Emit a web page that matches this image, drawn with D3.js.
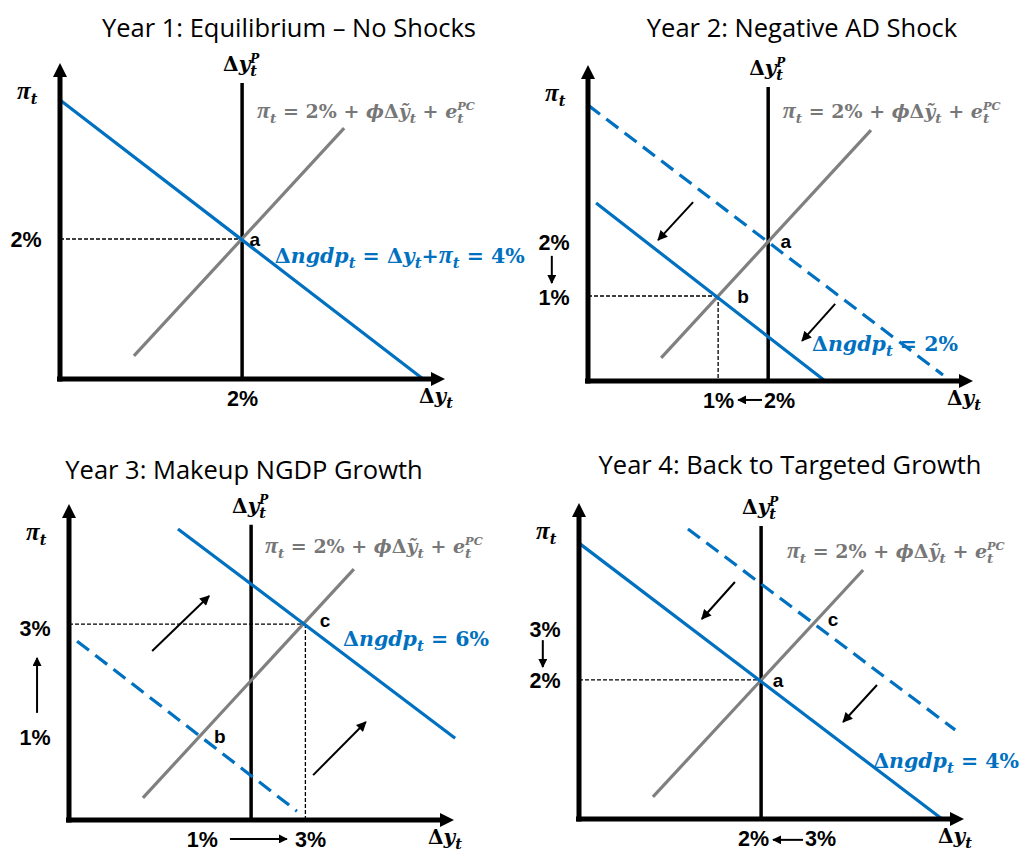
<!DOCTYPE html>
<html><head><meta charset="utf-8">
<script src="https://cdn.jsdelivr.net/npm/d3@7"></script>
<style>body{margin:0;background:#fff}</style>
</head><body><svg id="c" width="1019" height="851"></svg>
<script>
// ---------- data (abstract diagram units: 0..10 on each axis) ----------
const titles = ["Year 1: Equilibrium – No Shocks", "Year 2: Negative AD Shock",
                "Year 3: Makeup NGDP Growth", "Year 4: Back to Targeted Growth"];
const potentialOutput = [4.73, 4.68, 4.73, 4.73];
const potentialTop = [9.37, 9.30, 9.34, 9.27];
const pcCurves = [
  [[1.92, 0.73], [7.38, 7.94]],
  [[1.90, 0.73], [7.35, 7.94]],
  [[1.92, 0.70], [7.40, 7.94]],
  [[1.92, 0.70], [7.38, 7.88]]
];
const adSolid = [
  [[0, 8.83], [9.43, 0]],
  [[0.21, 5.63], [6.16, 0]],
  [[2.83, 9.21], [10.03, 2.59]],
  [[0, 8.73], [9.43, 0]]
];
const adDashed = [
  null,
  [[0, 8.73], [9.22, 0.19]],
  [[0.21, 5.66], [5.92, 0.28]],
  [[2.83, 9.18], [9.77, 2.82]]
];
const guides = [
  [[[0, 4.43], [4.73, 4.43]]],
  [[[0, 2.69], [3.38, 2.69]], [[3.38, 2.69], [3.38, 0]]],
  [[[0, 6.20], [6.14, 6.20]], [[6.14, 6.20], [6.14, 0]]],
  [[[0, 4.40], [4.73, 4.40]]]
];
const shiftArrows = [
  [],
  [[[2.73, 5.66], [1.82, 4.46]], [[6.42, 2.44], [5.56, 1.27]]],
  [[[2.16, 5.35], [3.64, 7.09]], [[6.34, 1.42], [7.71, 3.10]]],
  [[[4.05, 7.50], [3.19, 6.33]], [[7.74, 4.24], [6.86, 3.07]]]
];
const pointNames = [["a"], ["a", "b"], ["c", "b"], ["a", "c"]];
const pointLabelAt = [
  [[5.06, 4.43]],
  [[5.14, 4.43], [4.03, 2.69]],
  [[6.65, 6.33], [3.92, 2.66]],
  [[5.17, 4.40], [6.60, 6.33]]
];
const yTickVals = [[4.43], [4.40, 2.66], [6.08, 2.63], [6.01, 4.40]];
const yTickText = [["2%"], ["2%", "1%"], ["3%", "1%"], ["3%", "2%"]];
const xTickVals = [[4.73], [3.38, 4.96], [3.45, 6.26], [4.52, 6.26]];
const xTickText = [["2%"], ["1%", "2%"], ["1%", "3%"], ["2%", "3%"]];
const tickArrows = [
  [],
  [[[4.52, -0.60], [3.90, -0.60]], [[-0.94, 3.96], [-0.94, 3.10]]],
  [[[4.18, -0.60], [5.66, -0.60]], [[-0.83, 3.39], [-0.83, 5.13]]],
  [[[5.82, -0.66], [5.04, -0.66]], [[-0.94, 5.66], [-0.94, 4.81]]]
];
const pcLabelAt = [[5.12, 8.45], [5.06, 8.51], [5.09, 8.64], [5.40, 8.45]];
const adLabelAt = [[5.58, 3.86], [5.82, 1.14], [7.12, 5.70], [7.64, 1.80]];
const adLabelValue = ["4%", "2%", "6%", "4%"];

// ---------- layout ----------
const origins = [[60, 379], [588, 381], [69, 820], [579, 819]];
const titlePos = [[289, 28], [802, 28], [244, 470], [790, 465]];
const W = 385, H = 316;
const BLUE = "#0070C0", GRAY = "#808080", GRAYTXT = "#777777";
const SANS = "'Open Sans', 'Liberation Sans', sans-serif";
const LBL = "'Liberation Sans', Arial, sans-serif";
const MATH = "'DejaVu Serif', 'Liberation Serif', serif";
const PIFONT = "'Liberation Serif', 'DejaVu Serif', serif";

const svg = d3.select("#c");
svg.append("rect").attr("width", 1019).attr("height", 851).attr("fill", "#fff");
const defs = svg.append("defs");
defs.append("marker").attr("id", "ah").attr("viewBox", "0 0 10 10")
  .attr("refX", 9).attr("refY", 5).attr("markerUnits", "userSpaceOnUse")
  .attr("markerWidth", 11).attr("markerHeight", 10).attr("orient", "auto")
  .append("path").attr("d", "M0,0 L10,5 L0,10 z").attr("fill", "#000");
defs.append("marker").attr("id", "ahs").attr("viewBox", "0 0 10 10")
  .attr("refX", 9).attr("refY", 5).attr("markerUnits", "userSpaceOnUse")
  .attr("markerWidth", 9).attr("markerHeight", 9).attr("orient", "auto")
  .append("path").attr("d", "M0,0 L10,5 L0,10 z").attr("fill", "#000");

function mathText(sel, px, py, parts, fs, color) {
  const t = sel.append("text").attr("x", px).attr("y", py)
    .attr("font-family", MATH).attr("font-weight", "bold")
    .attr("font-size", fs).attr("fill", color);
  let shift = 0;
  const sp = target => { const d = target - shift; shift = target; return d; };
  parts.forEach(p => {
    const m = t.append("tspan").attr("dy", sp(0)).attr("font-style", p.i ? "italic" : "normal").text(p.t);
    if (p.pi) m.attr("font-family", PIFONT).attr("font-size", fs * 1.25);
    if (p.sub) {
      const s = t.append("tspan").attr("dy", sp(fs * 0.25)).attr("font-size", fs * 0.72)
        .attr("font-style", "italic").text(p.sub);
      if (p.sup) {
        const w = s.node().getComputedTextLength();
        t.append("tspan").attr("dx", -w).attr("dy", sp(-fs * 0.42)).attr("font-size", fs * 0.6)
          .attr("font-style", "italic").text(p.sup);
      }
    }
  });
  return t;
}

const PI = {t: "π", i: 1, pi: 1, sub: "t"};
const pcParts = [PI, {t: " = 2% + "}, {t: "ϕ", i: 1}, {t: "Δ"},
  {t: "ỹ", i: 1, sub: "t"}, {t: " + "}, {t: "e", i: 1, sub: "t", sup: "PC"}];

titles.forEach((tt, i) => {
  svg.append("text").attr("x", titlePos[i][0]).attr("y", titlePos[i][1]).attr("dy", "0.35em")
    .attr("text-anchor", "middle").attr("font-family", SANS).attr("font-size", 25.5)
    .attr("fill", "#000").text(tt);
});

for (let i = 0; i < 4; i++) {
  const [ox, oy] = origins[i];
  const x = d3.scaleLinear().domain([0, 10]).range([ox, ox + W]);
  const y = d3.scaleLinear().domain([0, 10]).range([oy, oy - H]);
  const line = d3.line().x(d => x(d[0])).y(d => y(d[1]));
  const g = svg.append("g");

  guides[i].forEach(s => g.append("path").attr("d", line(s)).attr("fill", "none")
    .attr("stroke", "#000").attr("stroke-width", 1.3).attr("stroke-dasharray", "4,2"));

  g.append("path").attr("d", line([[potentialOutput[i], 0], [potentialOutput[i], potentialTop[i]]]))
    .attr("stroke", "#000").attr("stroke-width", 3.5);

  g.append("path").attr("d", line(pcCurves[i])).attr("stroke", GRAY).attr("stroke-width", 3.2);
  if (adDashed[i]) g.append("path").attr("d", line(adDashed[i])).attr("stroke", BLUE)
    .attr("stroke-width", 3.2).attr("stroke-dasharray", "15,8");
  g.append("path").attr("d", line(adSolid[i])).attr("stroke", BLUE).attr("stroke-width", 3.2);

  // axes with arrowheads
  g.append("line").attr("x1", ox).attr("x2", ox).attr("y1", oy + 2.5).attr("y2", y(10) + 10)
    .attr("stroke", "#000").attr("stroke-width", 5);
  g.append("path").attr("d", `M${ox - 7},${y(10) + 14} L${ox + 7},${y(10) + 14} L${ox},${y(10)} Z`).attr("fill", "#000");
  g.append("line").attr("x1", ox - 3).attr("x2", x(10) - 10).attr("y1", oy).attr("y2", oy)
    .attr("stroke", "#000").attr("stroke-width", 5);
  g.append("path").attr("d", `M${x(10) - 14},${oy - 7} L${x(10) - 14},${oy + 7} L${x(10)},${oy} Z`).attr("fill", "#000");

  // tick labels through d3 axes
  const yg = g.append("g").attr("transform", `translate(${ox},0)`)
    .call(d3.axisLeft(y).tickValues(yTickVals[i]).tickFormat((d, j) => yTickText[i][j]).tickSize(0));
  yg.select(".domain").remove();
  yg.selectAll("text").attr("x", -34).attr("dy", "0.35em").attr("text-anchor", "middle")
    .attr("font-family", LBL).attr("font-weight", "bold").attr("font-size", 21.5).attr("fill", "#000");
  const xg = g.append("g").attr("transform", `translate(0,${oy})`)
    .call(d3.axisBottom(x).tickValues(xTickVals[i]).tickFormat((d, j) => xTickText[i][j]).tickSize(0));
  xg.select(".domain").remove();
  xg.selectAll("text").attr("y", 19).attr("dy", "0.35em").attr("text-anchor", "middle")
    .attr("font-family", LBL).attr("font-weight", "bold").attr("font-size", 21.5).attr("fill", "#000");

  tickArrows[i].forEach(s => g.append("path").attr("d", line(s)).attr("stroke", "#000")
    .attr("stroke-width", 2).attr("marker-end", "url(#ahs)"));
  shiftArrows[i].forEach(s => g.append("path").attr("d", line(s)).attr("stroke", "#000")
    .attr("stroke-width", 2).attr("marker-end", "url(#ah)"));

  pointNames[i].forEach((n, j) => g.append("text").attr("x", x(pointLabelAt[i][j][0]))
    .attr("y", y(pointLabelAt[i][j][1])).attr("dy", "0.35em").attr("text-anchor", "middle")
    .attr("font-family", LBL).attr("font-weight", "bold").attr("font-size", 19).text(n));

  // axis names
  mathText(g, ox - 43, oy - H + 30 + 6, [PI], 20, "#000");
  mathText(g, x(10) - 26, oy + 24, [{t: "Δ"}, {t: "y", i: 1, sub: "t"}], 20, "#000");
  mathText(g, x(potentialOutput[i]) - 19, y(potentialTop[i]) - 12,
    [{t: "Δ"}, {t: "y", i: 1, sub: "t", sup: "P"}], 20, "#000");

  mathText(g, x(pcLabelAt[i][0]), y(pcLabelAt[i][1]) + 6, pcParts, 19, GRAYTXT);
  const adParts = i === 0
    ? [{t: "Δ"}, {t: "ngdp", i: 1, sub: "t"}, {t: " = Δ"}, {t: "y", i: 1, sub: "t"}, {t: "+"},
       PI, {t: " = " + adLabelValue[i]}]
    : [{t: "Δ"}, {t: "ngdp", i: 1, sub: "t"}, {t: " = " + adLabelValue[i]}];
  mathText(g, x(adLabelAt[i][0]), y(adLabelAt[i][1]) + 6, adParts, 20.5, BLUE);
}
</script></body></html>
